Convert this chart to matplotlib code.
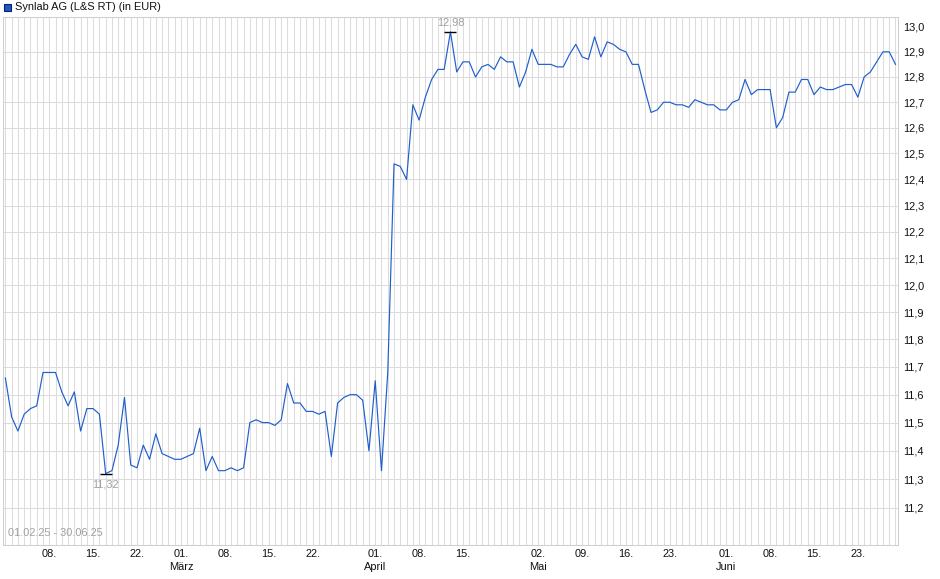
import matplotlib
matplotlib.use("Agg")
import matplotlib.pyplot as plt
from matplotlib.patches import Rectangle
import matplotlib.transforms as mtransforms
import numpy as np
import pandas as pd

plt.rcParams['font.family'] = ['Liberation Sans', 'DejaVu Sans']

# trading days shown (calendar days without the gaps in the feed)
missing_days = ["2025-04-18", "2025-04-19", "2025-04-20", "2025-04-21",
                "2025-05-01", "2025-06-19", "2025-06-30"]
days = pd.date_range("2025-02-01", "2025-06-30")
days = days[~days.isin(pd.to_datetime(missing_days))]

prices = [
    11.66, 11.52, 11.47, 11.53, 11.55, 11.56, 11.68, 11.68, 11.68, 11.61,
    11.56, 11.61, 11.47, 11.55, 11.55, 11.53, 11.32, 11.33, 11.42, 11.59,
    11.35, 11.34, 11.42, 11.37, 11.46, 11.39, 11.38, 11.37, 11.37, 11.38,
    11.39, 11.48, 11.33, 11.38, 11.33, 11.33, 11.34, 11.33, 11.34, 11.50,
    11.51, 11.50, 11.50, 11.49, 11.51, 11.64, 11.57, 11.57, 11.54, 11.54,
    11.53, 11.54, 11.38, 11.57, 11.59, 11.60, 11.60, 11.58, 11.40, 11.65,
    11.33, 11.68, 12.46, 12.45, 12.40, 12.69, 12.63, 12.72, 12.79, 12.83,
    12.83, 12.98, 12.82, 12.86, 12.86, 12.80, 12.84, 12.85, 12.83, 12.88,
    12.86, 12.86, 12.76, 12.82, 12.91, 12.85, 12.85, 12.85, 12.84, 12.84,
    12.89, 12.93, 12.88, 12.87, 12.96, 12.88, 12.94, 12.93, 12.91, 12.90,
    12.85, 12.85, 12.75, 12.66, 12.67, 12.70, 12.70, 12.69, 12.69, 12.68,
    12.71, 12.70, 12.69, 12.69, 12.67, 12.67, 12.70, 12.71, 12.79, 12.73,
    12.75, 12.75, 12.75, 12.60, 12.64, 12.74, 12.74, 12.79, 12.79, 12.73,
    12.76, 12.75, 12.75, 12.76, 12.77, 12.77, 12.72, 12.80, 12.82, 12.86,
    12.90, 12.90, 12.85,
]

tick_dates = ["2025-02-08", "2025-02-15", "2025-02-22", "2025-03-01",
              "2025-03-08", "2025-03-15", "2025-03-22", "2025-04-01",
              "2025-04-08", "2025-04-15", "2025-05-02", "2025-05-09",
              "2025-05-16", "2025-05-23", "2025-06-01", "2025-06-08",
              "2025-06-15", "2025-06-23"]
month_names = {3: "März", 4: "April", 5: "Mai", 6: "Juni"}
y_ticks = [11.2, 11.3, 11.4, 11.5, 11.6, 11.7, 11.8, 11.9, 12.0,
           12.1, 12.2, 12.3, 12.4, 12.5, 12.6, 12.7, 12.8, 12.9, 13.0]

grid_col = "#dcdcdc"
text_grey = "#a0a0a0"
line_col = "#1f5fcc"
fs = 7.9

x = np.arange(len(days))
fig = plt.figure(figsize=(9.4, 5.79), dpi=100)
ax = fig.add_axes([3/940, 1 - 545/579, 895/940, 528/579])

ax.plot(x, prices, color=line_col, lw=0.85, zorder=3)

ax.set_yscale("log")
ax.set_ylim(11.072, 13.04)
ax.set_xlim(-0.38, 142.4)

ax.set_yticks(y_ticks)
ax.set_yticklabels([("%.1f" % v).replace(".", ",") for v in y_ticks])
ax.yaxis.set_minor_locator(matplotlib.ticker.NullLocator())
ax.yaxis.tick_right()
ax.tick_params(axis="y", length=0, pad=4, labelsize=fs, colors="#111111")

ax.set_xticks(x, minor=True)
ax.set_xticks([])
ax.tick_params(axis="x", which="both", length=0)
ax.grid(True, which="minor", axis="x", color=grid_col, lw=0.75)
ax.grid(True, which="major", axis="y", color=grid_col, lw=0.75)
ax.get_ygridlines()[-1].set_visible(False)
ax.set_axisbelow(True)

for s in ax.spines.values():
    s.set_color("#cfcfcf")
    s.set_linewidth(0.75)

# date labels below the plot
trans = mtransforms.blended_transform_factory(ax.transData, fig.transFigure)
for d in tick_dates:
    d = pd.Timestamp(d)
    i = days.get_loc(d)
    fig.text(i, 1 - 554/579, d.strftime("%d."), transform=trans, fontsize=fs,
             ha="center", va="center", color="#111111")
    if d.month in month_names and d.day <= 2:
        fig.text(i, 1 - 567/579, month_names[d.month], transform=trans, fontsize=fs,
                 ha="center", va="center", color="#111111")

# high / low markers
lo = int(np.argmin(prices))
hi = int(np.argmax(prices))
for i, dy in ((lo, -11), (hi, 9)):
    ax.plot([i], [prices[i]], marker="_", markersize=8, mew=1.0, color="black", zorder=4)
    ax.annotate(("%.2f" % prices[i]).replace(".", ","), (i, prices[i]),
                xytext=(0, dy), textcoords="offset pixels", ha="center",
                va="center", fontsize=fs, color=text_grey)

ax.text(0.006, 0.013, "%s - %s" % (days[0].strftime("%d.%m.%y"), "30.06.25"),
        transform=ax.transAxes, fontsize=fs, color=text_grey, ha="left", va="bottom")

# legend
fig.patches.append(Rectangle((4/940, 1 - 11/579), 7/940, 7/579, transform=fig.transFigure,
                             facecolor="#2456c0", edgecolor="#0a2060", lw=0.8))
fig.text(15/940, 1 - 7/579, "Synlab AG (L&S RT) (in EUR)", fontsize=fs,
         ha="left", va="center", color="#111111")

fig.savefig("out.png", dpi=100)
